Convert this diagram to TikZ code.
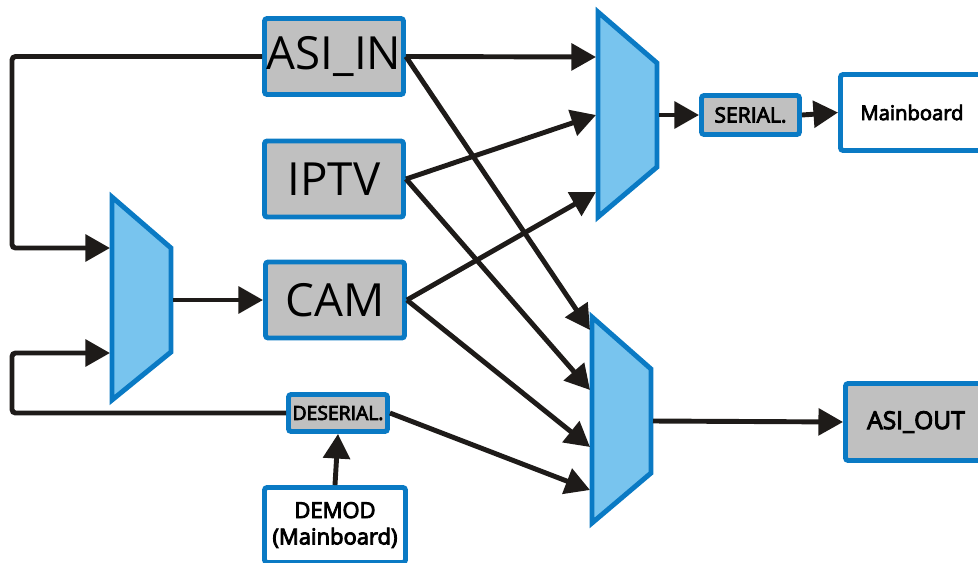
\documentclass[tikz,border=0pt]{standalone}
\usepackage{fontspec}
\setmainfont{Open Sans}
\newfontfamily\semib{Open Sans}[FakeBold=4]
\usetikzlibrary{arrows.meta}
\definecolor{boxblue}{HTML}{0A7AC4}
\definecolor{muxfill}{HTML}{78C4EE}
\definecolor{boxgray}{HTML}{C0C0C0}
\definecolor{wire}{HTML}{1E1B19}

\begin{document}
\begin{tikzpicture}[x=0.02cm, y=-0.02cm,
  blk/.style={rectangle, rounded corners=1.5pt, draw=boxblue, line width=2.8pt, fill=#1, inner sep=0pt, align=center},
  big/.style={blk=boxgray, minimum width=2.78cm, minimum height=1.52cm, font=\fontsize{26}{30}\selectfont},
  mux/.style={draw=boxblue, line width=2.8pt, fill=muxfill, line join=miter},
  arr/.style={-{Triangle[length=14pt, width=15pt]}, wire, line width=2.8pt}
]
  \useasboundingbox (0,0) rectangle (978,562);
  \clip (0,0) rectangle (978,562);

  % source blocks
  \node[big] (asiin) at (334,56.5) {ASI\_IN};
  \node[big] (iptv) at (334,179) {IPTV};
  \node[big] (cam) at (335,300) {CAM};
  \node[blk=boxgray, minimum width=1.98cm, minimum height=0.74cm, font=\semib\fontsize{11}{13}\selectfont] (deser) at (338,413) {DESERIAL.};
  \node[blk=white, minimum width=2.82cm, minimum height=1.5cm, font=\semib\fontsize{12.5}{15}\selectfont] (demod) at (335,525) {DEMOD\\(Mainboard)};

  % output blocks
  \node[blk=boxgray, minimum width=1.96cm, minimum height=0.78cm, font=\semib\fontsize{12}{13}\selectfont] (serial) at (750.5,115) {SERIAL.};
  \node[blk=white, minimum width=2.86cm, minimum height=1.52cm, font=\semib\fontsize{11.5}{14}\selectfont] (mainb) at (912,112.5) {Mainboard};
  \node[blk=boxgray, minimum width=2.82cm, minimum height=1.54cm, font=\semib\fontsize{14}{16}\selectfont] (asiout) at (916,422) {ASI\_OUT};

  % multiplexers
  \draw[mux] (112,197) -- (171,248) -- (171,352) -- (112,400) -- cycle;
  \draw[mux] (598,12) -- (657,63) -- (657,167) -- (598,217) -- cycle;
  \draw[mux] (592,317) -- (651,369) -- (651,473) -- (592,523) -- cycle;
  \coordinate (ml1) at (110,248);
  \coordinate (ml2) at (110,353);
  \coordinate (mlo) at (173,300);
  \coordinate (mt1) at (596,57);
  \coordinate (mt2) at (596,115);
  \coordinate (mt3) at (596,192);
  \coordinate (mto) at (659,115);
  \coordinate (mb1) at (590,330);
  \coordinate (mb2) at (590,390);
  \coordinate (mb3) at (590,447);
  \coordinate (mb4) at (590,490);
  \coordinate (mbo) at (653,421);
  \coordinate (lx) at (12,0);

  % loop back into the left mux
  \draw[arr, rounded corners=2pt] (asiin.west) -- (asiin.west -| lx) |- (ml1);
  \draw[arr, rounded corners=2pt] (deser.west) -- (deser.west -| lx) |- (ml2);
  \draw[arr] (mlo) -- (cam.west);
  \draw[arr] (demod.north) -- (deser.south);

  % to the top mux
  \draw[arr] (asiin.east) -- (mt1);
  \draw[arr] (iptv.east) -- (mt2);
  \draw[arr] (cam.east) -- (mt3);
  \draw[arr] (mto) -- (serial.west);
  \draw[arr] (serial.east) -- (mainb.west);

  % to the bottom mux
  \draw[arr] (asiin.east) -- (mb1);
  \draw[arr] (iptv.east) -- (mb2);
  \draw[arr] (cam.east) -- (mb3);
  \draw[arr] (deser.east) -- (mb4);
  \draw[arr] (mbo) -- (asiout.west);
\end{tikzpicture}
\end{document}
